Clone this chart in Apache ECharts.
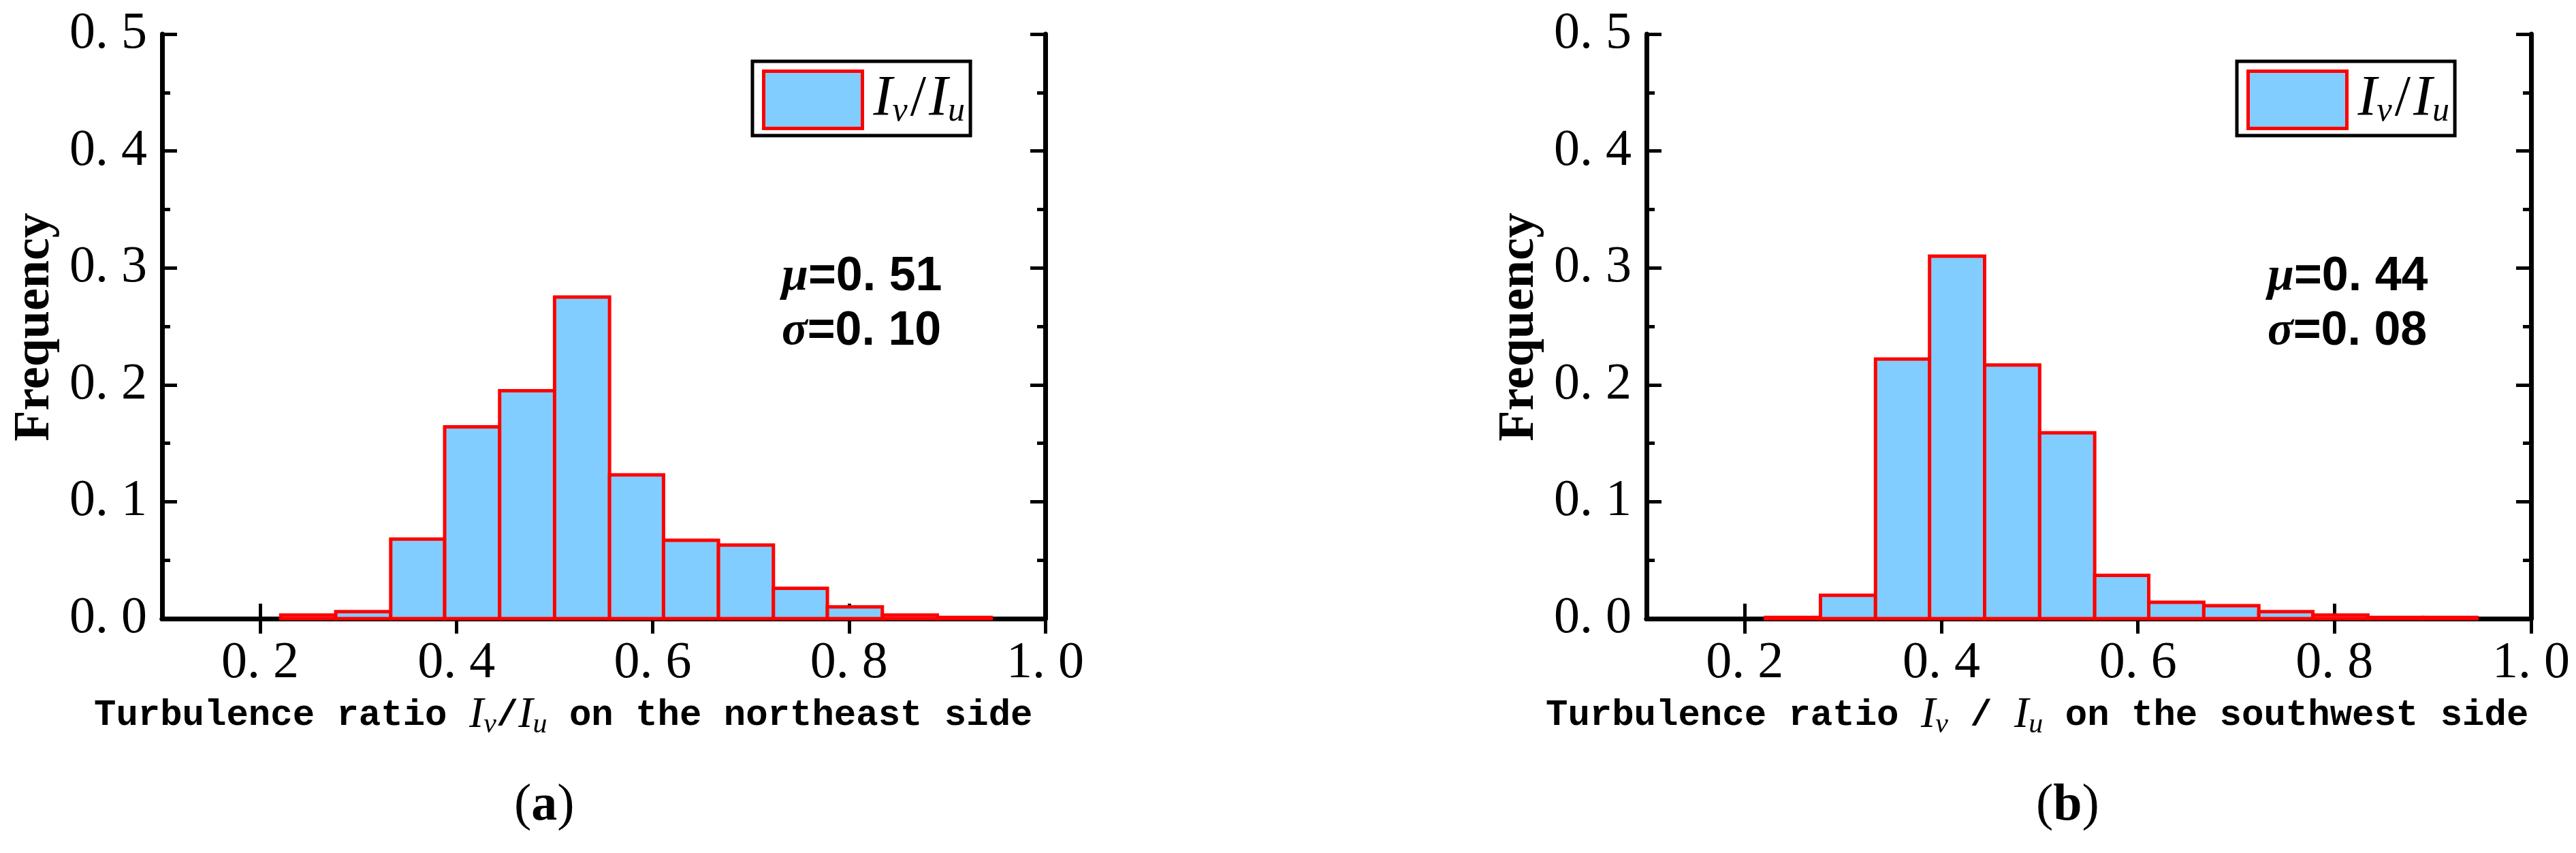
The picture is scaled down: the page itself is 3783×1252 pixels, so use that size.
<!DOCTYPE html>
<html><head><meta charset="utf-8">
<script src="https://cdn.jsdelivr.net/npm/echarts@6/dist/echarts.min.js"></script>
<style>html,body{margin:0;background:#fff}#c{width:3783px;height:1252px}</style>
</head><body><div id="c"></div>
<script>
const binEdges = [0.221,0.277,0.333,0.388,0.444,0.500,0.556,0.611,0.667,0.723,0.778,0.834,0.890,0.945];
const freqNE = [0.003,0.006,0.068,0.164,0.195,0.275,0.123,0.067,0.063,0.026,0.010,0.003,0.001];
const freqSW = [0.001,0.020,0.222,0.310,0.217,0.159,0.037,0.014,0.011,0.006,0.003,0.001,0.001];
const xTicks = [0.2,0.4,0.6,0.8,1.0];
const statsNE = {mu:'0. 51', sigma:'0. 10'};
const statsSW = {mu:'0. 44', sigma:'0. 08'};
const seriesName = 'Iv/Iu';

const chart = echarts.init(document.getElementById('c'));
const grids = [{left:238,width:1297,top:50,height:858},{left:2418,width:1299,top:50,height:858}];
const tickFont = {fontFamily:'Liberation Serif',fontSize:76,color:'#000'};
function fmt(v){return v.toFixed(1).replace('.', '. ');}
function mkX(g, top){
  return {type:'value',gridIndex:g,min:0.1,max:1.0,position:top?'top':'bottom',
    axisLine:{lineStyle:{color:'#000',width:7}},
    axisTick:{show:true,inside:true,length:22,lineStyle:{width:5,color:'#000'},customValues:xTicks},
    axisLabel:{show:!top,customValues:xTicks,formatter:fmt,margin:28,...tickFont},
    splitLine:{show:false}};
}
function mkY(g, right){
  return {type:'value',gridIndex:g,min:0,max:0.5,interval:0.1,position:right?'right':'left',
    axisLine:{show:true,lineStyle:{color:'#000',width:7}},
    axisTick:{show:true,inside:true,length:22,lineStyle:{width:5,color:'#000'}},
    minorTick:{show:true,splitNumber:2,length:12,lineStyle:{width:5,color:'#000'}},
    axisLabel:{show:!right,formatter:fmt,margin:22,...tickFont},
    splitLine:{show:false}};
}
function mkData(f){return f.map((v,i)=>[binEdges[i],binEdges[i+1],v]);}
function mkSeries(f,g){
  return {type:'custom',name:seriesName,xAxisIndex:g*2,yAxisIndex:g*2,data:mkData(f),
    itemStyle:{color:'#82CDFF',borderColor:'#FF0000',borderWidth:5},
    encode:{x:[0,1],y:2},
    renderItem:function(params,api){
      const p0=api.coord([api.value(0),api.value(2)]);
      const p1=api.coord([api.value(1),0]);
      return {type:'rect',shape:{x:p0[0],y:p0[1],width:p1[0]-p0[0],height:p1[1]-p0[1]},
        style:{fill:'#82CDFF',stroke:'#FF0000',lineWidth:5}};
    }};
}
const richIv = {
  i:{fontFamily:'Liberation Serif',fontStyle:'italic',fontSize:84,color:'#000',padding:[0,0,0,0]},
  sl:{fontFamily:'Liberation Serif',fontSize:84,color:'#000',padding:[0,4,0,4]},
  s:{fontFamily:'Liberation Serif',fontStyle:'italic',fontSize:50,color:'#000',padding:[34,0,0,0]}
};
function legend(left){
  return {show:true,data:[{name:seriesName,icon:'rect',itemStyle:{color:'#82CDFF',borderColor:'#FF0000',borderWidth:5}}],
    left:left,top:90,itemWidth:145,itemHeight:84,itemGap:0,
    padding:[12,8,8,14],borderColor:'#000',borderWidth:5,backgroundColor:'#fff',
    formatter:()=>'{sp| }{i|I}{s|v}{sl|/}{i|I}{s|u}',
    textStyle:{rich:{...richIv,sp:{fontSize:40}}}};
}
function axisTitle(x,y,txtA,txtB,sp){
  return {type:'text',left:x,top:y,style:{
    text:'{m|'+txtA+'}{i|I}{s|v}{m|'+sp+'/'+sp+'}{i|I}{s|u}{m|'+txtB+'}',
    rich:{m:{fontFamily:'Liberation Mono',fontWeight:'bold',fontSize:54,fill:'#000'},
      i:{fontFamily:'Liberation Serif',fontStyle:'italic',fontSize:64,fill:'#000'},
      s:{fontFamily:'Liberation Serif',fontStyle:'italic',fontSize:42,fill:'#000',padding:[28,0,0,0]}}}};
}
function stats(x,st){
  const r={g:{fontFamily:'Liberation Serif',fontStyle:'italic',fontWeight:'bold',fontSize:70,fill:'#000'},
    n:{fontFamily:'Liberation Sans Narrow, Liberation Sans',fontWeight:'bold',fontSize:70,fill:'#000'}};
  return [{type:'text',left:x,top:372,style:{text:'{g|μ}{n|='+st.mu+'}',rich:r}},
          {type:'text',left:x,top:452,style:{text:'{g|σ}{n|='+st.sigma+'}',rich:r}}];
}
function freq(x){
  return {type:'text',x:x,y:480,rotation:Math.PI/2,style:{text:'Frequency',fontFamily:'Liberation Serif',fontWeight:'bold',fontSize:74,fill:'#000',align:'center',verticalAlign:'middle'}};
}
const capRich = {p:{fontFamily:'Liberation Serif',fontSize:76,fill:'#000'},b:{fontFamily:'Liberation Serif',fontWeight:'bold',fontSize:76,fill:'#000'}};
chart.setOption({
  animation:false,
  grid:grids,
  xAxis:[mkX(0,false),mkX(0,true),mkX(1,false),mkX(1,true)].map((a,i)=>({...a,gridIndex:i<2?0:1})),
  yAxis:[mkY(0,false),mkY(0,true),mkY(1,false),mkY(1,true)].map((a,i)=>({...a,gridIndex:i<2?0:1})),
  legend:[legend(1105),legend(3285)],
  series:[mkSeries(freqNE,0),mkSeries(freqSW,1)],
  graphic:[
    freq(52), freq(2232),
    axisTitle(138,1018,'Turbulence ratio ',' on the northeast side',''),
    axisTitle(2270,1018,'Turbulence ratio ',' on the southwest side',' '),
    ...stats(1148,statsNE),
    ...stats(3330,statsSW),
    {type:'text',left:755,top:1145,style:{text:'{p|(}{b|a}{p|)}',rich:capRich}},
    {type:'text',left:2990,top:1145,style:{text:'{p|(}{b|b}{p|)}',rich:capRich}}
  ]
});
</script></body></html>
